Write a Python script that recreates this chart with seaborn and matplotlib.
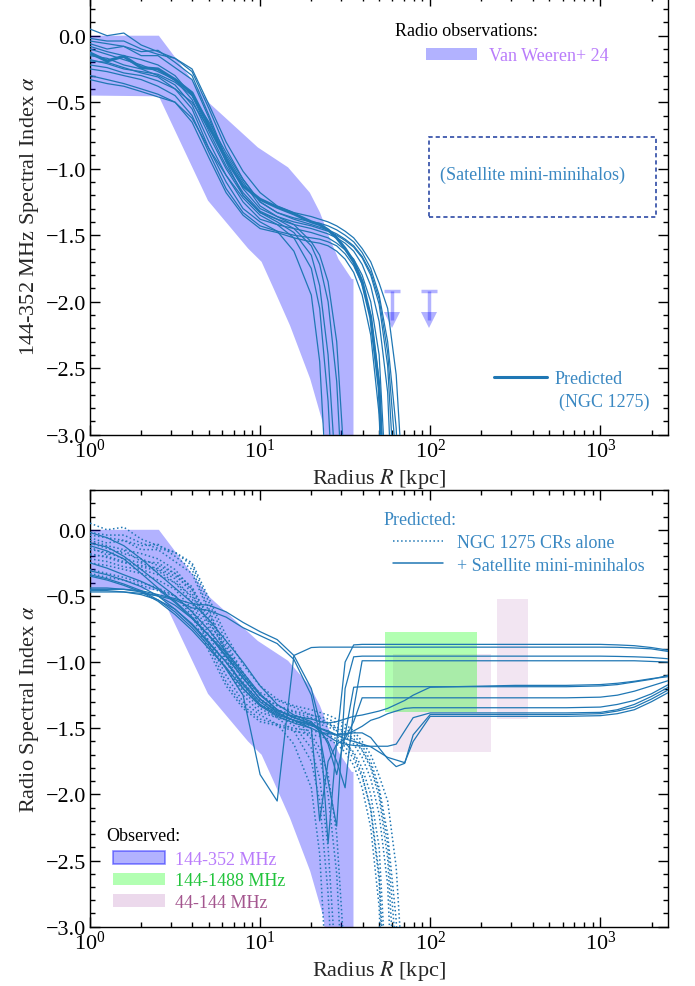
import numpy as np
import pandas as pd
import matplotlib
matplotlib.use("Agg")
import matplotlib.pyplot as plt
import seaborn as sns
from matplotlib.patches import Patch, Rectangle
from matplotlib.lines import Line2D
from matplotlib.ticker import MultipleLocator, LogLocator

nan = np.nan

# ---------------- data ----------------
radius_ngc = [1.0, 1.26, 1.58, 2.0, 2.51, 3.16, 3.98, 5.01, 6.31, 7.94, 10.0, 12.6,
              15.8, 20.0, 22.4, 25.1, 28.2, 31.6, 35.5, 39.8, 44.7, 50.1, 56.2, 63.1, 70.8]

ngc_01 = [0.05, 0.00, 0.02, -0.07, -0.12, -0.17, -0.25, -0.52, -0.80, -1.02, -1.18, -1.28, -1.33,
          -1.36, -1.38, -1.40, -1.43, -1.47, -1.52, -1.60, -1.70, -1.86, -2.05, -2.55, -3.60]
ngc_02 = [-0.02, -0.04, -0.04, -0.10, -0.14, -0.17, -0.27, -0.55, -0.85, -1.08, -1.25, -1.33, -1.37,
          -1.40, -1.41, -1.43, -1.46, -1.50, -1.55, -1.63, -1.75, -1.95, -2.30, -2.95, -4.50]
ngc_03 = [-0.04, -0.06, -0.08, -0.12, -0.11, -0.20, -0.30, -0.60, -0.92, -1.15, -1.30, -1.36, -1.40,
          -1.43, -1.45, -1.47, -1.50, -1.54, -1.59, -1.67, -1.80, -2.02, -2.48, -3.60, nan]
ngc_04 = [-0.06, -0.10, -0.08, -0.15, -0.15, -0.24, -0.33, -0.62, -0.95, -1.20, -1.33, -1.38, -1.42,
          -1.45, -1.47, -1.49, -1.52, -1.56, -1.62, -1.72, -1.88, -2.15, -2.68, -4.20, nan]
ngc_05 = [-0.10, -0.14, -0.18, -0.22, -0.27, -0.33, -0.48, -0.75, -1.00, -1.20, -1.33, -1.40, -1.48,
          -1.65, -1.88, -2.40, -3.40, nan, nan, nan, nan, nan, nan, nan, nan]
ngc_06 = [-0.15, -0.17, -0.22, -0.25, -0.30, -0.37, -0.52, -0.80, -1.05, -1.25, -1.38, -1.42, -1.45,
          -1.48, -1.50, -1.52, -1.56, -1.61, -1.68, -1.80, -2.00, -2.40, -3.60, nan, nan]
ngc_07 = [-0.19, -0.20, -0.24, -0.28, -0.31, -0.40, -0.50, -0.70, -0.90, -1.10, -1.28, -1.36, -1.42,
          -1.55, -1.65, -1.85, -2.30, -3.30, nan, nan, nan, nan, nan, nan, nan]
ngc_08 = [-0.22, -0.24, -0.28, -0.30, -0.34, -0.40, -0.55, -0.85, -1.10, -1.30, -1.40, -1.47, -1.62,
          -1.95, -2.45, -3.60, nan, nan, nan, nan, nan, nan, nan, nan, nan]
ngc_09 = [-0.25, -0.27, -0.30, -0.33, -0.38, -0.45, -0.60, -0.88, -1.15, -1.33, -1.43, -1.47, -1.50,
          -1.52, -1.53, -1.55, -1.58, -1.64, -1.73, -1.87, -2.10, -2.60, -3.90, nan, nan]
ngc_10 = [-0.30, -0.33, -0.36, -0.40, -0.44, -0.50, -0.65, -0.92, -1.18, -1.35, -1.45, -1.48, -1.52,
          -1.55, -1.56, -1.58, -1.62, -1.68, -1.78, -1.95, -2.25, -2.85, -4.50, nan, nan]
ngc_11 = [-0.33, -0.36, -0.38, -0.42, -0.46, -0.50, -0.62, -0.85, -1.05, -1.22, -1.35, -1.42, -1.52,
          -1.75, -2.05, -2.75, -4.00, nan, nan, nan, nan, nan, nan, nan, nan]
ngc_12 = [-0.08, -0.12, -0.15, -0.18, -0.22, -0.30, -0.45, -0.72, -0.98, -1.18, -1.32, -1.38, -1.45,
          -1.58, -1.72, -2.00, -2.60, -3.80, nan, nan, nan, nan, nan, nan, nan]
ngc_13 = [-0.18, -0.21, -0.25, -0.27, -0.29, -0.35, -0.45, -0.65, -0.88, -1.08, -1.25, -1.33, -1.38,
          -1.42, -1.44, -1.46, -1.49, -1.53, -1.58, -1.66, -1.78, -1.98, -2.38, -3.20, nan]
ngc_main = [-0.13, -0.19, -0.155, -0.24, -0.25, -0.33, -0.43, -0.68, -0.93, -1.13, -1.23, -1.29, -1.34,
            -1.40, -1.42, -1.46, -1.52, -1.60, -1.70, -1.85, -2.12, -2.65, -4.20, nan, nan]

radius_sat = [1.0, 1.26, 1.58, 2.0, 2.51, 3.16, 3.98, 5.01, 6.31, 7.94, 10.0, 12.6, 15.8, 20.0,
              22.4, 25.1, 28.2, 31.6, 35.5, 39.8, 44.7, 50.1, 56.2, 63.1, 70.8, 79.4, 100.0,
              316.0, 631.0, 1000.0, 1259.0, 1585.0, 1995.0, 2512.0]

sat_01 = [-0.34, -0.37, -0.41, -0.46, -0.53, -0.62, -0.74, -0.88, -1.05, -1.25, -1.85, -2.05, -0.95, -0.89,
          -0.887, -0.887, -0.887, -0.887, -0.887, -0.887, -0.887, -0.887, -0.887, -0.887, -0.887, -0.887,
          -0.887, -0.887, -0.887, -0.887, -0.888, -0.893, -0.90, -0.92]
sat_02 = [-0.45, -0.45, -0.45, -0.46, -0.49, -0.52, -0.56, -0.57, -0.62, -0.70, -0.77, -0.83, -0.95, -1.20,
          -1.45, -2.37, -1.60, -1.00, -0.87, -0.866, -0.866, -0.866, -0.866, -0.866, -0.866, -0.866,
          -0.866, -0.866, -0.866, -0.866, -0.87, -0.876, -0.89, -0.91]
sat_03 = [-0.47, -0.47, -0.47, -0.48, -0.50, -0.53, -0.59, -0.61, -0.66, -0.74, -0.80, -0.86, -0.98, -1.25,
          -1.55, -1.90, -2.24, -1.20, -0.96, -0.955, -0.955, -0.955, -0.955, -0.955, -0.955, -0.955,
          -0.955, -0.955, -0.955, -0.955, -0.957, -0.96, -0.965, -0.975]
sat_04 = [-0.10, -0.13, -0.20, -0.30, -0.40, -0.50, -0.62, -0.76, -0.92, -1.08, -1.24, -1.36, -1.42, -1.47,
          -1.52, -1.60, -1.75, -1.95, -1.35, -0.99, -0.99, -0.99, -0.99, -0.99, -0.99, -0.99,
          -0.99, -0.99, -0.99, -0.99, -0.99, -0.99, -0.995, -1.00]
sat_05 = [-0.25, -0.29, -0.34, -0.39, -0.45, -0.55, -0.67, -0.80, -0.93, -1.10, -1.25, -1.36, -1.42, -1.46,
          -1.50, -1.62, -1.85, -1.55, -1.19, -1.186, -1.186, -1.186, -1.186, -1.186, -1.186, -1.186,
          -1.186, -1.186, -1.186, -1.18, -1.17, -1.15, -1.13, -1.10]
sat_06 = [-0.44, -0.44, -0.45, -0.47, -0.50, -0.57, -0.67, -0.80, -0.95, -1.12, -1.28, -1.37, -1.41, -1.43,
          -1.45, -1.46, -1.45, -1.43, -1.41, -1.40, -1.385, -1.37, -1.35, -1.32, -1.29, -1.25,
          -1.19, -1.176, -1.176, -1.17, -1.16, -1.145, -1.125, -1.11]
sat_07 = [-0.12, -0.16, -0.22, -0.33, -0.44, -0.54, -0.66, -0.80, -0.96, -1.12, -1.28, -1.38, -1.44, -1.50,
          -2.20, -1.75, -1.62, -1.58, -1.45, -1.27, -1.27, -1.27, -1.27, -1.27, -1.27, -1.27,
          -1.27, -1.27, -1.27, -1.265, -1.25, -1.22, -1.18, -1.14]
sat_08 = [-0.31, -0.34, -0.38, -0.43, -0.50, -0.60, -0.72, -0.86, -1.00, -1.16, -1.30, -1.39, -1.44, -1.48,
          -1.50, -1.53, -1.55, -1.55, -1.52, -1.485, -1.44, -1.42, -1.39, -1.37, -1.35, -1.345,
          -1.345, -1.345, -1.345, -1.34, -1.32, -1.29, -1.24, -1.17]
sat_09 = [-0.02, -0.06, -0.12, -0.22, -0.33, -0.44, -0.55, -0.68, -0.84, -1.00, -1.18, -1.32, -1.40, -1.45,
          -1.52, -1.56, -1.60, -1.62, -1.63, -1.635, -1.636, -1.636, -1.636, -1.62, -1.52, -1.42,
          -1.384, -1.384, -1.384, -1.38, -1.36, -1.32, -1.26, -1.19]
sat_10 = [-0.35, -0.38, -0.42, -0.47, -0.54, -0.64, -0.76, -0.90, -1.04, -1.20, -1.33, -1.41, -1.46, -1.50,
          -1.53, -1.54, -1.55, -1.54, -1.535, -1.535, -1.57, -1.65, -1.73, -1.79, -1.765, -1.55,
          -1.396, -1.396, -1.396, -1.39, -1.37, -1.34, -1.28, -1.21]
sat_11 = [-0.46, -0.46, -0.47, -0.49, -0.53, -0.60, -0.71, -0.85, -1.00, -1.17, -1.32, -1.40, -1.44, -1.47,
          -1.50, -1.52, -1.55, -1.58, -1.60, -1.62, -1.64, -1.68, -1.72, -1.74, -1.76, -1.60,
          -1.41, -1.41, -1.41, -1.405, -1.39, -1.36, -1.30, -1.23]

# Van Weeren+24 144-352 MHz band (upper and lower edges)
band_r_upper = [1.0, 2.54, 5.06, 9.7, 14.6, 19.6, 22.5, 25.8, 28.9, 34.6, 35.4, 35.4]
band_a_upper = [0.0, 0.0, -0.51, -0.84, -0.99, -1.18, -1.33, -1.53, -1.68, -1.83, -1.83, -3.5]
band_r_lower = [1.0, 2.54, 4.94, 8.5, 10.2, 12.0, 15.0, 19.7, 23.6, 26.0]
band_a_lower = [-0.45, -0.456, -1.24, -1.60, -1.70, -1.90, -2.18, -2.58, -2.93, -3.5]

# upper limits (top of bar, length of bar to arrow-head centre)
ul_radius = [59.3, 99.0]
ul_alpha = [-1.92, -1.92]
ul_length = [0.22, 0.22]

# 144-1488 MHz box and 44-144 MHz boxes
box_1488_r = [54.4, 188.0]
box_1488_a = [-1.376, -0.77]
box_44a_r = [60.8, 227.0]
box_44a_a = [-1.68, -0.94]
box_44b_r = [247.0, 374.0]
box_44b_a = [-1.43, -0.525]

# ---------------- style ----------------
sns.set_theme(style="ticks")
plt.rcParams["font.family"] = ["Liberation Serif", "DejaVu Serif"]
plt.rcParams["mathtext.fontset"] = "stix"
plt.rcParams["axes.linewidth"] = 1.0

line_c = "#1f77b4"
text_blue = "#3a88c2"
purple_txt = "#b97cfb"
green_txt = "#22c43c"
mauve_txt = "#a4568f"
band_c = (0.0, 0.0, 1.0, 0.3)
green_c = (0.0, 1.0, 0.0, 0.3)
pink_c = (0.5, 0.0, 0.5, 0.1)

fig = plt.figure(figsize=(6.95, 9.87), dpi=100)
ax1 = fig.add_axes([90 / 695, 1 - 435.7 / 987, 578 / 695, 438.9 / 987])
ax2 = fig.add_axes([90 / 695, 1 - 927.7 / 987, 578 / 695, 436.6 / 987])


def long_df(radius, curves):
    rows = []
    for i, c in enumerate(curves):
        for r, a in zip(radius, c):
            rows.append((i, r, a))
    return pd.DataFrame(rows, columns=["curve", "radius", "alpha"])


ngc_thin = [ngc_01, ngc_02, ngc_03, ngc_04, ngc_05, ngc_06, ngc_07, ngc_08, ngc_09,
            ngc_10, ngc_11, ngc_12, ngc_13]
sat_all = [sat_01, sat_02, sat_03, sat_04, sat_05, sat_06, sat_07, sat_08, sat_09, sat_10, sat_11]
df_thin = long_df(radius_ngc, ngc_thin)
df_main = long_df(radius_ngc, [ngc_main])
df_dot = long_df(radius_ngc, ngc_thin + [ngc_main])
df_sat = long_df(radius_sat, sat_all)

band_x = band_r_upper + band_r_lower[::-1]
band_y = band_a_upper + band_a_lower[::-1]


def style(ax, ylabel):
    ax.set_xscale("log")
    ax.set_xlim(1, 2500)
    ax.set_ylim(-3.0, 0.3)
    ax.yaxis.set_major_locator(MultipleLocator(0.5))
    ax.yaxis.set_minor_locator(MultipleLocator(0.1))
    ax.xaxis.set_major_locator(LogLocator(base=10))
    ax.xaxis.set_minor_locator(LogLocator(base=10, subs=np.arange(2, 10)))
    ax.tick_params(which="both", direction="in", top=True, right=True,
                   labelsize=16, width=1.0, pad=3, color="black", labelcolor="black")
    ax.tick_params(which="major", length=7)
    ax.tick_params(which="minor", length=3.5)
    ax.set_xlabel("Radius $R$ [kpc]", fontsize=16, labelpad=3)
    ax.set_ylabel(ylabel, fontsize=16, labelpad=3)
    for s in ax.spines.values():
        s.set_color("black")
        s.set_linewidth(1.0)


# ---------------- top panel ----------------
ax1.fill(band_x, band_y, color=band_c, lw=0, zorder=1)
sns.lineplot(data=df_thin, x="radius", y="alpha", units="curve", estimator=None, sort=False,
             color=line_c, lw=0.9, ax=ax1, legend=False, zorder=3)
sns.lineplot(data=df_main, x="radius", y="alpha", units="curve", estimator=None, sort=False,
             color=line_c, lw=2.2, ax=ax1, legend=False, zorder=4)
ul_low = [a - l for a, l in zip(ul_alpha, ul_length)]
ax1.vlines(ul_radius, ul_low, ul_alpha, colors=[(0, 0, 1, 0.3)], lw=2.5, zorder=2)
ax1.plot(ul_radius, ul_alpha, ls="none", marker="_", ms=11, mew=2.5, color=(0, 0, 1, 0.3), zorder=2)
ax1.plot(ul_radius, ul_low, ls="none", marker="v", ms=11, mew=0, color=(0, 0, 1, 0.3), zorder=2)
style(ax1, "144-352 MHz Spectral Index $\\alpha$")

ax1.text(0.528, 0.920, "Radio observations:", transform=ax1.transAxes, fontsize=13,
         ha="left", va="center", color="black")
leg1 = ax1.legend([Patch(facecolor=band_c, edgecolor="none")], ["Van Weeren+ 24"],
                  loc="center left", bbox_to_anchor=(0.581, 0.8636), frameon=False, fontsize=13,
                  handlelength=2.82, handleheight=0.63, handletextpad=0.68, borderpad=0,
                  borderaxespad=0, labelcolor=[purple_txt])
ax1.add_artist(leg1)
ax1.add_patch(Rectangle((0.5865, 0.4953), 0.3922, 0.1837, transform=ax1.transAxes, fill=False,
                        ls=(0, (2.5, 1.8)), lw=1.2, ec="#2d4aa6", zorder=5))
ax1.text(0.7656, 0.594, "(Satellite mini-minihalos)", transform=ax1.transAxes, fontsize=13,
         ha="center", va="center", color=text_blue)
ax1.legend([Line2D([], [], color=line_c, lw=2.2)], ["Predicted"],
           loc="center left", bbox_to_anchor=(0.699, 0.127), frameon=False, fontsize=13,
           handlelength=2.93, handletextpad=0.44, borderpad=0, borderaxespad=0,
           labelcolor=[text_blue])
ax1.text(0.8114, 0.0768, "(NGC 1275)", transform=ax1.transAxes, fontsize=13,
         ha="left", va="center", color=text_blue)

# ---------------- bottom panel ----------------
ax2.fill(band_x, band_y, color=band_c, lw=0, zorder=1)
ax2.fill_between(box_44a_r, box_44a_a[0], box_44a_a[1], color=pink_c, lw=0, zorder=1)
ax2.fill_between(box_44b_r, box_44b_a[0], box_44b_a[1], color=pink_c, lw=0, zorder=1)
ax2.fill_between(box_1488_r, box_1488_a[0], box_1488_a[1], color=green_c, lw=0, zorder=1)
sns.lineplot(data=df_dot, x="radius", y="alpha", units="curve", estimator=None, sort=False,
             color=line_c, lw=1.1, ls=":", ax=ax2, legend=False, zorder=3)
sns.lineplot(data=df_sat, x="radius", y="alpha", units="curve", estimator=None, sort=False,
             color=line_c, lw=0.9, ax=ax2, legend=False, zorder=3)
style(ax2, "Radio Spectral Index $\\alpha$")

ax2.text(0.507, 0.9338, "Predicted:", transform=ax2.transAxes, fontsize=13,
         ha="left", va="center", color=text_blue)
leg2 = ax2.legend([Line2D([], [], color=line_c, lw=1.1, ls=":"), Line2D([], [], color=line_c, lw=1.1)],
                  ["NGC 1275 CRs alone", "+ Satellite mini-minihalos"],
                  loc="center left", bbox_to_anchor=(0.524, 0.8536), frameon=False, fontsize=13,
                  handlelength=2.75, handletextpad=0.8, borderpad=0, borderaxespad=0,
                  labelspacing=0.3, labelcolor=[text_blue, text_blue])
ax2.add_artist(leg2)
ax2.text(0.0277, 0.210, "Observed:", transform=ax2.transAxes, fontsize=13,
         ha="left", va="center", color="black")
ax2.legend([Patch(facecolor=band_c, edgecolor=(0, 0, 1, 0.45), lw=1.2),
            Patch(facecolor=green_c, edgecolor="none"),
            Patch(facecolor=(0.5, 0.0, 0.5, 0.15), edgecolor="none")],
           ["144-352 MHz", "144-1488 MHz", "44-144 MHz"],
           loc="center left", bbox_to_anchor=(0.0403, 0.1054), frameon=False, fontsize=13,
           handlelength=2.86, handleheight=0.68, handletextpad=0.55, borderpad=0,
           borderaxespad=0, labelspacing=0.25, labelcolor=[purple_txt, green_txt, mauve_txt])

fig.savefig("out.png", dpi=100)
